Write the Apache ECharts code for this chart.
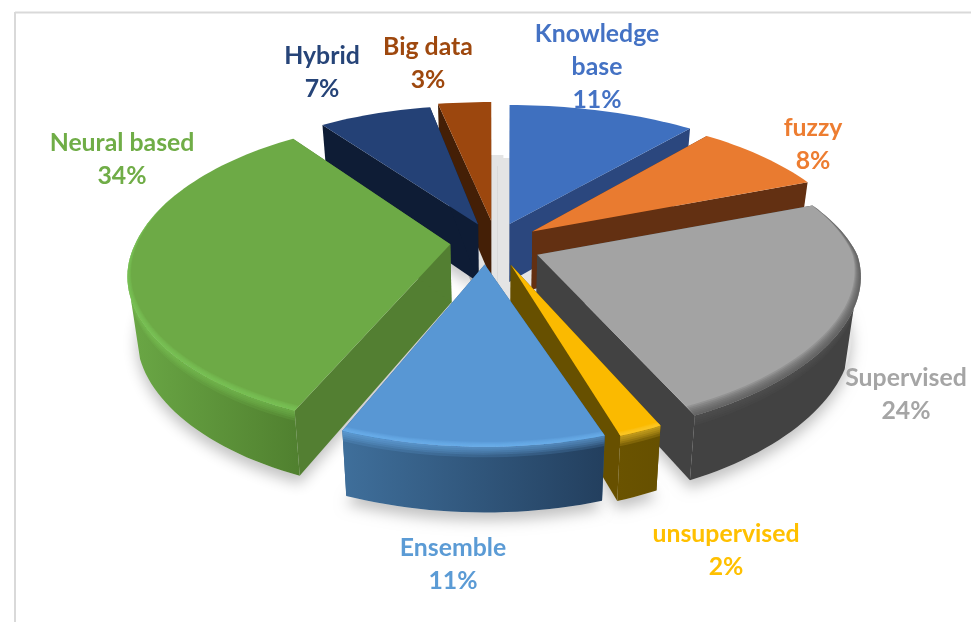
<!DOCTYPE html>
<html>
<head>
<meta charset="utf-8">
<style>html,body{margin:0;padding:0;background:#fff}#c{width:971px;height:622px}</style>
<script src="https://cdn.jsdelivr.net/npm/echarts@6/dist/echarts.min.js"></script>
</head>
<body>
<div id="c"></div>
<script>
// ---- data ----
const categories = ['Knowledge base', 'fuzzy', 'Supervised', 'unsupervised', 'Ensemble', 'Neural based', 'Hybrid', 'Big data'];
const values = [11, 8, 24, 2, 11, 34, 7, 3];
const labelNames = ['Knowledge\nbase', 'fuzzy', 'Supervised', 'unsupervised', 'Ensemble', 'Neural based', 'Hybrid', 'Big data'];

// ---- styles ----
const topColors  = ['#3f70bf', '#e97b30', '#a3a3a3', '#fbba00', '#5897d4', '#6daa46', '#244176', '#9c470e'];
const wallColors = ['#2b477e', '#633012', '#424242', '#675000', '#335f88', '#537f32', '#0e1c35', '#441f06'];
const arcLeft    = ['#2b477e', '#633012', '#424242', '#6a5300', '#3f6f9b', '#6aa745', '#0e1c35', '#441f06'];
const arcRight   = ['#2b477e', '#633012', '#424242', '#665000', '#233f5e', '#50802f', '#0e1c35', '#441f06'];
const rimColors  = ['#3f70bf', '#e97b30', '#555555', '#ffcb33', '#6fb3f0', '#7fc658', '#244176', '#9c470e'];
const rimWidths  = [0, 0, 0.05, 0.02, 0.022, 0.026, 0, 0];
const labelColors = ['#4472c4', '#ed7d31', '#a5a5a5', '#ffc000', '#5b9bd5', '#70ad47', '#264478', '#9e480e'];

// ---- layout (projection of the tilted pie) ----
const CX = 498, CY = 245, R = 320, K = 0.45, H = 58, EXPLODE = 40;
const PX_BACK = 0.22, PX_FRONT = 0.15, PY = 0.21, BOTTOM_SHRINK = 0.975, WALL_PERSPECTIVE = 0.5;
const apexNudge = [[-2,-4],[2,-3],[2,3],[-2,3],[-12,1.5],[-8,-3],[-4,-4],[-3,-6]];
const frontShear = [0, 0, 0, 0, 0, 0.07, 0, 0];
const xScale = [1.035, 1, 1, 0.95, 1.04, 0.985, 0.975, 1.08];
const backYScale = [1, 1, 1, 1, 1, 1.06, 1, 1];
const haloWidth = [24, 0, 0, 0, 0, 0, 0, 24];
const labelAnchors = [[597,67.5],[813,144.5],[906,395],[726,550.5],[453,564.5],[122,159.5],[322,73],[428,64]];

const total = values.reduce((a, b) => a + b, 0);
const slices = [];
let acc = 0;
values.forEach((v, i) => {
  const a0 = acc / total * 2 * Math.PI;
  acc += v;
  const a1 = acc / total * 2 * Math.PI;
  const mid = (a0 + a1) / 2;
  slices.push({
    i, a0, a1, mid,
    ax: CX + EXPLODE * Math.sin(mid) + apexNudge[i][0],
    ay: CY - EXPLODE * Math.cos(mid) * K + apexNudge[i][1]
  });
});
const order = slices.slice().sort((p, q) => Math.cos(q.mid) - Math.cos(p.mid));

function pt(s, theta, r, z) {
  const Y = -Math.cos(theta) * r;      // + toward the viewer
  const X = Math.sin(theta) * r;
  const sx = 1 / (1 - (Y < 0 ? PX_BACK : PX_FRONT) * Y);
  const sy = 1 / (1 - PY * Y);
  const yb = Y < 0 ? backYScale[s.i] : 1;
  let x = s.ax + X * R * sx * xScale[s.i] - (Y > 0 ? frontShear[s.i] * Y * R : 0);
  let y = s.ay + Y * R * K * sy * yb + z * H * (1 + (sy - 1) * WALL_PERSPECTIVE);
  x = CX + (x - CX) * (1 - (1 - BOTTOM_SHRINK) * z);
  return [x, y];
}
function arc(s, a0, a1, r, z) {
  const n = Math.max(2, Math.ceil((a1 - a0) / 0.03));
  const out = [];
  for (let j = 0; j <= n; j++) out.push(pt(s, a0 + (a1 - a0) * j / n, r, z));
  return out;
}
function poly(points, style) {
  return { type: 'polygon', silent: true, shape: { points }, style };
}
function topFace(s, z) {
  return [pt(s, s.a0, 0, z)].concat(arc(s, s.a0, s.a1, 1, z));
}
function visibleRange(s) {
  const lim = Math.acos(-0.35);
  const lo = Math.max(s.a0, lim);
  const hi = Math.min(s.a1, 2 * Math.PI - lim);
  return lo < hi ? [lo, hi] : null;
}

function renderSlice(params, api) {
  const s = order[params.dataIndex];
  const i = s.i, kids = [];
  // soft ground shadow
  const base = topFace(s, 1).map(p => [p[0], p[1] + (haloWidth[i] ? 12 : 0)]);
  kids.push(poly(base, {
    fill: '#e4e4e4',
    stroke: haloWidth[i] ? '#e4e4e4' : null,
    lineWidth: haloWidth[i],
    shadowBlur: haloWidth[i] ? 0 : 14, shadowOffsetY: 8, shadowColor: 'rgba(0,0,0,0.24)'
  }));
  // radial cut walls
  [s.a0, s.a1].forEach(t => {
    kids.push(poly([pt(s, t, 0, 0), pt(s, t, 1, 0), pt(s, t, 1, 1), pt(s, t, 0, 1)], { fill: wallColors[i] }));
  });
  // outer curved wall
  const vr = visibleRange(s);
  if (vr) {
    const up = arc(s, vr[0], vr[1], 1, 0), dn = arc(s, vr[0], vr[1], 1, 1).reverse();
    kids.push(poly(up.concat(dn), {
      fill: new echarts.graphic.LinearGradient(0, 0, 1, 0, [
        { offset: 0, color: arcLeft[i] }, { offset: 1, color: arcRight[i] }])
    }));
    if (rimWidths[i]) {
      // rounded shoulder where the wall leaves the top face
      [0.16, 0.12, 0.09, 0.06, 0.03].forEach(zb => {
        const a = arc(s, vr[0], vr[1], 1, 0), c = arc(s, vr[0], vr[1], 1, zb).reverse();
        kids.push(poly(a.concat(c), { fill: rimColors[i], opacity: 0.16 }));
      });
    }
  }
  // top face
  kids.push(poly(topFace(s, 0), { fill: topColors[i] }));
  // bevel highlight along the outer rim, fading toward the back
  if (rimWidths[i]) {
    [1, 0.85, 0.7, 0.55, 0.4, 0.25, 0.12].forEach(w => {
      const n = Math.ceil((s.a1 - s.a0) / 0.03), outer = [], inner = [];
      for (let j = 0; j <= n; j++) {
        const t = s.a0 + (s.a1 - s.a0) * j / n;
        const f = Math.max(0, (-Math.cos(t) + 0.4) / 1.4);
        outer.push(pt(s, t, 1, 0));
        inner.push(pt(s, t, 1 - rimWidths[i] * w * f, 0));
      }
      kids.push(poly(outer.concat(inner.reverse()), { fill: rimColors[i], opacity: 0.2 }));
    });
  }
  return { type: 'group', silent: true, children: kids };
}

function renderLabel(params) {
  const i = params.dataIndex;
  return {
    type: 'text', silent: true,
    x: labelAnchors[i][0], y: labelAnchors[i][1],
    style: {
      text: labelNames[i] + '\n' + values[i] + '%',
      fill: labelColors[i],
      font: 'bold 24.8px Lato',
      lineHeight: 33,
      align: 'center',
      verticalAlign: 'middle'
    }
  };
}

const chart = echarts.init(document.getElementById('c'), null, { renderer: 'canvas' });
chart.setOption({
  backgroundColor: '#ffffff',
  animation: false,
  tooltip: { show: false },
  graphic: [
    { type: 'line', silent: true, shape: { x1: 15, y1: 12.5, x2: 971, y2: 12.5 }, style: { stroke: '#d9d9d9', lineWidth: 2 } },
    { type: 'line', silent: true, shape: { x1: 15, y1: 12, x2: 15, y2: 622 }, style: { stroke: '#d9d9d9', lineWidth: 2 } }
  ],
  series: [
    {
      type: 'custom', coordinateSystem: 'none', silent: true, z: 2,
      data: order.map(s => ({ name: categories[s.i], value: values[s.i] })),
      renderItem: renderSlice
    },
    {
      type: 'custom', coordinateSystem: 'none', silent: true, z: 3,
      data: categories.map((c, i) => ({ name: c, value: values[i] })),
      renderItem: renderLabel
    }
  ]
});
</script>
</body>
</html>
